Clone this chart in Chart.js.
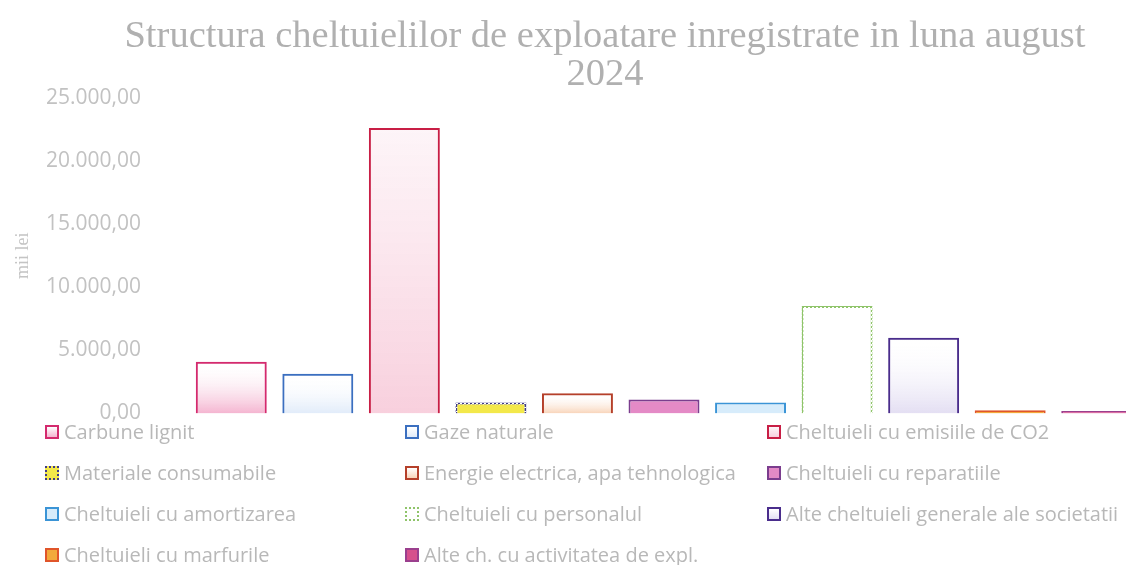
<!DOCTYPE html>
<html>
<head>
<meta charset="utf-8">
<script src="https://cdn.jsdelivr.net/npm/chart.js@4.4.1/dist/chart.umd.min.js"></script>
<style>
  body { margin: 0; background: #fff; overflow: hidden; width: 1126px; height: 565px; position: relative; }
  #wrap { position: absolute; left: 0; top: 0; }
  #title { position: absolute; left: 0; top: 15px; width: 1210px; text-align: center;
    font-family: "Liberation Serif", serif; font-size: 38.5px; line-height: 38px; color: #b0b0b0; }
  #legend { position: absolute; left: 45px; top: 411px; display: grid;
    grid-template-columns: 360px 362px 360px; grid-auto-rows: 41px;
    font-family: "Open Sans", sans-serif; font-size: 20px; color: #b8b8b8; }
  #legend div { display: flex; align-items: center; white-space: nowrap; }
  #legend span.box { width: 10px; height: 10px; border: 2px solid; margin-right: 5px; flex: none; }
</style>
</head>
<body>
<div id="wrap"><canvas id="costChart" width="1210" height="473"></canvas></div>
<div id="title">Structura cheltuielilor de exploatare inregistrate in luna august<br>2024</div>
<div id="legend"></div>
<script>
const categories = [
  "Carbune lignit", "Gaze naturale", "Cheltuieli cu emisiile de CO2",
  "Materiale consumabile", "Energie electrica, apa tehnologica", "Cheltuieli cu reparatiile",
  "Cheltuieli cu amortizarea", "Cheltuieli cu personalul", "Alte cheltuieli generale ale societatii",
  "Cheltuieli cu marfurile", "Alte ch. cu activitatea de expl."
];
const values = [4100, 3150, 22630, 870, 1600, 1100, 870, 8520, 6000, 240, 200];
const yTicks = [0, 5000, 10000, 15000, 20000, 25000];

// styles
const borderColors = ["#d42a6e", "#3b6fc0", "#c81e45", "#3f3a8a", "#b5402a", "#7b3d8e",
  "#3a94d6", "#8fc46a", "#4a2d8c", "#e0552a", "#9b3f8e"];
const bottomColors = ["rgba(236,120,170,0.55)", "rgba(170,200,240,0.35)", "rgba(240,150,180,0.45)",
  "#f3e84a", "rgba(240,160,100,0.45)", "#e48ac6", "#d7ecfb", "#ffffff",
  "rgba(200,190,230,0.5)", "#f2a93b", "#d6508c"];
const topColors = ["rgba(255,255,255,0)", "rgba(255,255,255,0)", "rgba(250,225,235,0.35)",
  "#f3e84a", "rgba(255,255,255,0)", "#e48ac6", "#d7ecfb", "#ffffff",
  "rgba(255,255,255,0)", "#f2a93b", "#d6508c"];
const dotted = [false, false, false, true, false, false, false, true, false, false, false];

function fmt(v) {
  const s = Math.round(v).toString().replace(/\B(?=(\d{3})+(?!\d))/g, ".");
  return s + ",00";
}

function dots(color) {
  const c = document.createElement("canvas");
  c.width = 4; c.height = 4;
  const g = c.getContext("2d");
  g.fillStyle = color;
  g.fillRect(0, 0, 3, 3);
  g.fillRect(2, 2, 2, 2);
  return g.createPattern(c, "repeat");
}

function barFill(i) {
  return function (context) {
    const chart = context.chart;
    const y = chart.scales.y;
    if (!y || !chart.chartArea) return bottomColors[i];
    const bottom = y.getPixelForValue(0);
    const top = y.getPixelForValue(values[i]);
    if (!isFinite(top) || Math.abs(bottom - top) < 1) return bottomColors[i];
    const grad = chart.ctx.createLinearGradient(0, bottom, 0, top);
    grad.addColorStop(0, bottomColors[i]);
    grad.addColorStop(1, topColors[i]);
    return grad;
  };
}

const datasets = categories.map((name, i) => ({
  label: name,
  data: [values[i]],
  backgroundColor: barFill(i),
  borderColor: dotted[i] ? dots(borderColors[i]) : borderColors[i],
  borderWidth: 2,
  barPercentage: 0.82,
  categoryPercentage: 1
}));

new Chart(document.getElementById("costChart"), {
  type: "bar",
  data: { labels: [""], datasets: datasets },
  options: {
    responsive: false,
    animation: false,
    layout: { padding: { left: 0, right: 70, top: 98, bottom: 10 } },
    plugins: {
      legend: { display: false },
      tooltip: { enabled: false }
    },
    scales: {
      x: { display: false },
      y: {
        min: 0, max: 25000,
        afterBuildTicks: s => { s.ticks = yTicks.map(v => ({ value: v })); },
        afterFit: s => { s.width = 188; },
        grid: { display: false, drawTicks: false },
        border: { display: false },
        ticks: {
          padding: 47,
          color: "#c2c2c2",
          font: { family: "Open Sans", size: 21 },
          callback: v => fmt(v)
        },
        title: {
          display: true,
          text: "mii lei",
          color: "#c4c4c4",
          font: { family: "Liberation Serif", size: 18 },
          padding: { top: 12, bottom: 0 }
        }
      }
    }
  }
});

const legend = document.getElementById("legend");
categories.forEach((name, i) => {
  const item = document.createElement("div");
  const box = document.createElement("span");
  box.className = "box";
  box.style.borderColor = borderColors[i];
  if (dotted[i]) box.style.borderStyle = "dotted";
  box.style.background = "linear-gradient(to top, " + bottomColors[i] + ", " + topColors[i] + ")";
  item.appendChild(box);
  item.appendChild(document.createTextNode(name));
  legend.appendChild(item);
});
</script>
</body>
</html>
